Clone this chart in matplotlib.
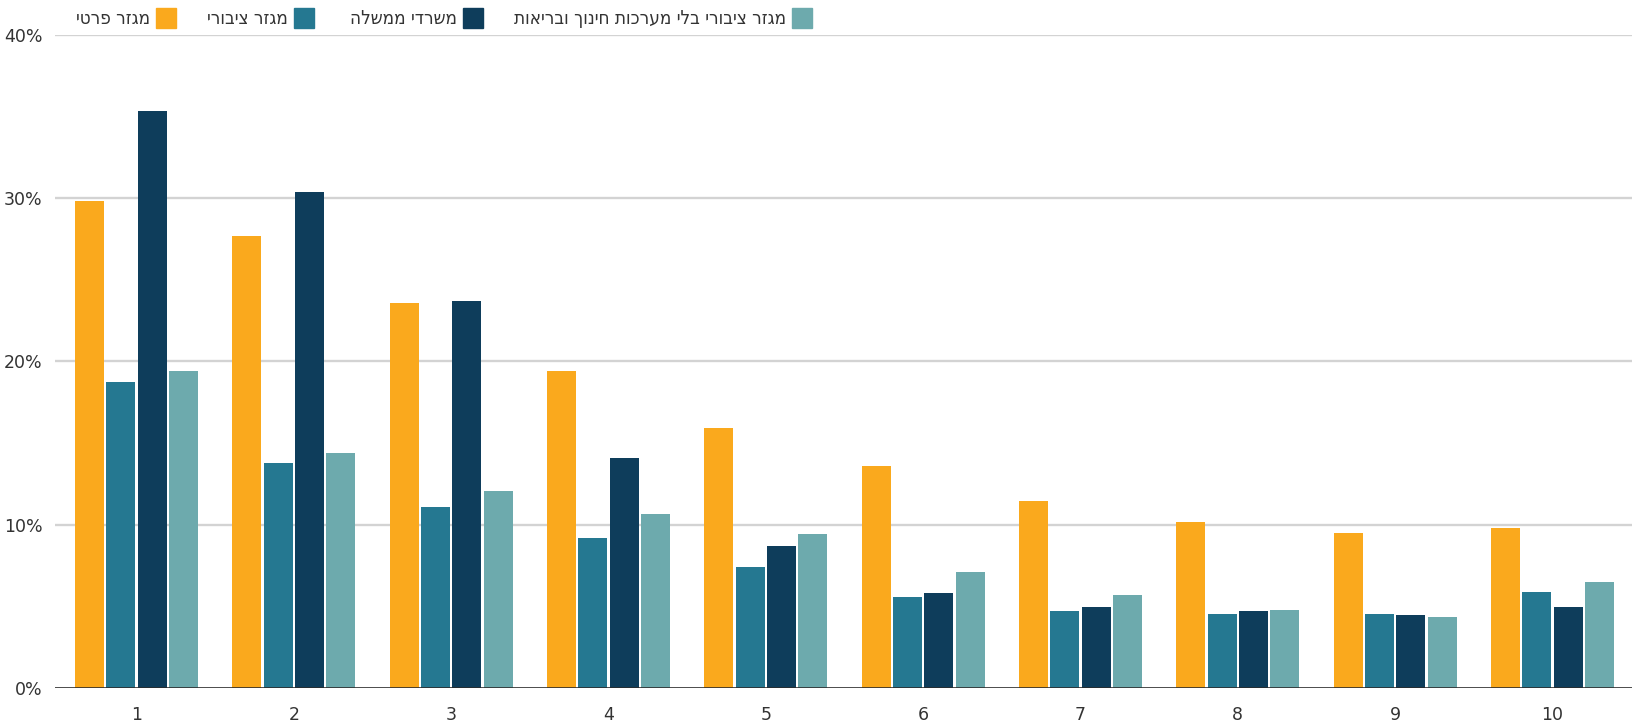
import numpy as np
import matplotlib.pyplot as plt
from matplotlib.patches import Rectangle

# deciles on the x axis
deciles = ['1', '2', '3', '4', '5', '6', '7', '8', '9', '10']

# share per decile, percent
private = [29.8, 27.7, 23.6, 19.4, 15.9, 13.6, 11.45, 10.15, 9.5, 9.8]
public = [18.75, 13.75, 11.1, 9.2, 7.4, 5.57, 4.7, 4.53, 4.53, 5.88]
government = [35.35, 30.4, 23.72, 14.1, 8.7, 5.82, 4.95, 4.72, 4.47, 4.96]
public_no_edu_health = [19.42, 14.38, 12.07, 10.67, 9.43, 7.1, 5.69, 4.78, 4.35, 6.5]

series_names = ['מגזר פרטי', 'מגזר ציבורי', 'משרדי ממשלה',
                'מגזר ציבורי בלי מערכות חינוך ובריאות']
colors = ['#FAA91D', '#257891', '#0E3D5B', '#6DAAAD']


def visual(s):
    # matplotlib has no bidi support, so flip Hebrew strings for display
    return s[::-1]


fig = plt.figure(figsize=(16.41, 7.23), dpi=100)
ax = fig.add_axes([0.0335, 0.0488, 0.961, 0.9028])

x = np.arange(len(deciles))
pitch = 0.199
width = 0.184
all_series = [private, public, government, public_no_edu_health]
for i, (vals, c) in enumerate(zip(all_series, colors)):
    ax.bar(x + (i - 1.5) * pitch, vals, width=width, color=c, zorder=3)

ax.set_xlim(-0.518, 9.505)
ax.set_ylim(0, 40)
ax.set_yticks([0, 10, 20, 30, 40])
ax.set_yticklabels([f'{v}%' for v in [0, 10, 20, 30, 40]])
ax.set_xticks(x)
ax.set_xticklabels(deciles)

for v in [10, 20, 30, 40]:
    ax.axhline(v, color='#d3d3d3', lw=1.7, zorder=1)
ax.axhline(0, color='#2b2b2b', lw=1.9, zorder=4)

for s in ax.spines.values():
    s.set_visible(False)
ax.tick_params(axis='both', length=0, labelsize=12.5, colors='#333333')
ax.tick_params(axis='x', pad=13)
ax.tick_params(axis='y', pad=9)

# legend along the top: label text with the colour square on its right
square_left = [156, 294, 463, 792]
sq = 20
for name, c, sx in zip(series_names, colors, square_left):
    fig.patches.append(Rectangle((sx / 1641, 1 - (18 + sq / 2) / 723), sq / 1641, sq / 723,
                                 transform=fig.transFigure, color=c))
    fig.text((sx - 6) / 1641, 1 - 18 / 723, visual(name), ha='right', va='center',
             fontsize=13.5, color='#333333', family=['DejaVu Sans'], stretch='condensed')

fig.savefig('out.png', dpi=100)
